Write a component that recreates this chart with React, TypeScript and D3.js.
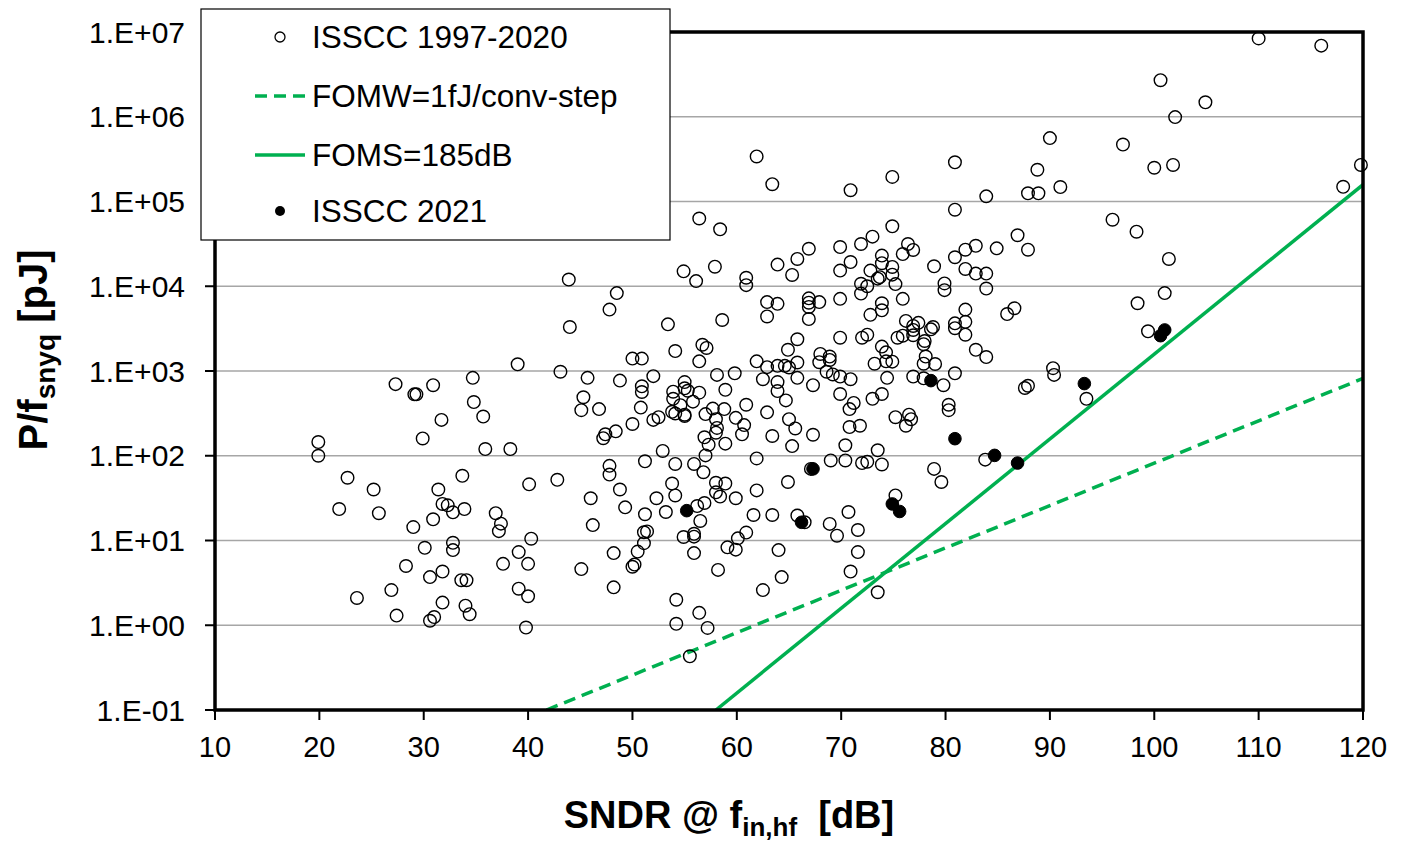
import React from "react";
import * as d3 from "d3";

// ISSCC 1997-2020: [SNDR dB, P/fsnyq pJ]
const isscc1997to2020: [number, number][] = [
  [39.0, 1200], [27.3, 700], [29.1, 530], [29.3, 530], [30.9, 680], [34.7, 830], [34.8, 430], [35.7, 290],
  [31.7, 265], [29.9, 160], [19.9, 145], [19.9, 100], [35.9, 120], [38.3, 120], [22.7, 55], [33.7, 58],
  [40.1, 46], [25.2, 40], [31.4, 40], [21.9, 23.5], [25.7, 21], [31.8, 27], [32.3, 26], [32.8, 21.5],
  [33.9, 23.5], [30.9, 17.8], [29.0, 14.4], [36.9, 21], [37.4, 15.8], [37.2, 12.9], [32.8, 9.4], [32.8, 7.7],
  [30.1, 8.2], [40.3, 10.5], [39.1, 7.3], [28.3, 5.0], [37.6, 5.3], [40.0, 5.3], [31.8, 4.3], [30.6, 3.7],
  [33.6, 3.4], [34.1, 3.4], [26.9, 2.6], [23.6, 2.1], [39.1, 2.7], [40.0, 2.2], [31.8, 1.85], [34.0, 1.7],
  [34.4, 1.35], [27.4, 1.3], [31.0, 1.25], [30.6, 1.13], [39.8, 0.94],
  [61.9, 3.4e5], [63.4, 1.6e5], [56.4, 6.3e4], [58.4, 4.7e4], [54.9, 1.5e4], [56.1, 1.15e4], [57.9, 1.7e4],
  [43.9, 1.2e4], [48.5, 8300], [60.9, 1.26e4], [60.9, 1.03e4], [63.9, 1.8e4], [65.3, 1.36e4], [65.8, 2.1e4],
  [47.8, 5300], [44.0, 3300], [53.4, 3550], [58.6, 4000], [62.9, 6500], [63.9, 6200], [62.9, 4400],
  [56.7, 2040], [57.1, 1870], [54.1, 1720], [50.0, 1400], [50.9, 1400], [56.4, 1300], [61.9, 1300],
  [64.9, 1780], [65.8, 2370], [43.1, 980], [45.7, 830], [48.8, 770], [52.0, 870], [58.1, 900], [59.8, 940],
  [62.9, 1110], [63.9, 1150], [64.6, 1150], [65.0, 1100], [65.8, 1260], [62.5, 800], [63.9, 740], [65.8, 830],
  [50.9, 660], [50.9, 565], [45.3, 490], [55.0, 740], [55.0, 625], [55.3, 585], [53.9, 570], [53.9, 470],
  [56.4, 555], [55.8, 435], [58.9, 600], [63.9, 580], [64.7, 450], [45.1, 345], [46.8, 355], [50.8, 370],
  [54.6, 395], [53.8, 330], [54.1, 315], [55.0, 305], [55.0, 295], [52.0, 265], [52.5, 285], [50.0, 237],
  [57.7, 360], [58.8, 355], [57.0, 310], [60.9, 400], [62.9, 325], [58.0, 270], [59.9, 280], [60.7, 230],
  [65.0, 270], [65.6, 210], [58.1, 213], [58.0, 187], [60.5, 179], [63.4, 171], [48.4, 194], [47.4, 179],
  [47.2, 161], [56.9, 165], [57.3, 135], [58.9, 139], [65.3, 130], [52.9, 114], [57.0, 101], [61.9, 93],
  [51.2, 86], [47.8, 76], [47.8, 60], [54.1, 80], [55.9, 80], [56.8, 64], [42.8, 52], [48.8, 40],
  [53.8, 47], [58.0, 48], [58.9, 47], [61.9, 39], [64.9, 49],
  [46.0, 31.5], [49.3, 24.6], [51.2, 20.4], [52.3, 31.5], [53.2, 21.7], [54.1, 34], [56.2, 25.5], [56.9, 27.7],
  [56.5, 17], [58.0, 37], [58.4, 33], [59.9, 31.5], [61.6, 20], [63.4, 20], [65.8, 19.7], [66.5, 16.4],
  [46.2, 15.2], [51.1, 12.5], [51.4, 12.8], [51.1, 9.3], [50.5, 7.4], [50.2, 5.2], [50.0, 4.9], [48.2, 7.1],
  [45.1, 4.6], [48.2, 2.8], [54.9, 11], [55.9, 12], [55.9, 11.1], [55.9, 7.1], [58.2, 4.5], [59.1, 8.3],
  [59.9, 7.8], [60.1, 10.6], [60.9, 12.4], [64.0, 7.7], [64.3, 3.7], [62.5, 2.6], [54.2, 2.0], [56.4, 1.4],
  [54.2, 1.04], [57.2, 0.93], [55.5, 0.43],
  [90.0, 5.6e5], [70.9, 1.36e5], [74.9, 1.95e5], [80.9, 2.9e5], [88.8, 2.37e5], [91.0, 1.48e5], [87.9, 1.25e5],
  [88.9, 1.25e5], [83.9, 1.15e5], [80.9, 8.0e4], [74.9, 5.1e4], [86.9, 4.0e4], [87.9, 2.7e4], [73.0, 3.85e4],
  [71.9, 3.15e4], [69.9, 2.9e4], [66.9, 2.77e4], [70.9, 1.93e4], [69.9, 1.53e4], [73.9, 2.3e4], [73.9, 1.87e4],
  [74.9, 1.69e4], [74.9, 1.37e4], [72.8, 1.53e4], [76.4, 3.15e4], [76.9, 2.68e4], [75.9, 2.4e4], [73.5, 1.23e4],
  [73.7, 1.28e4], [71.9, 1.07e4], [72.5, 1.0e4], [71.9, 8200], [75.2, 1.06e4], [78.9, 1.72e4], [80.9, 2.2e4],
  [81.9, 2.7e4], [82.9, 3.0e4], [84.9, 2.8e4], [81.9, 1.6e4], [82.9, 1.41e4], [83.9, 1.41e4], [79.9, 1.08e4],
  [79.9, 9000], [83.9, 9400], [66.9, 7200], [66.9, 6400], [66.9, 5700], [67.9, 6500], [69.9, 7100], [75.9, 7100],
  [73.9, 6300], [73.9, 5200], [72.8, 4600], [81.9, 5300], [86.6, 5500], [85.9, 4700], [66.9, 4100],
  [76.2, 3900], [77.4, 3700], [76.9, 3400], [78.8, 3300], [78.6, 3100], [80.9, 3650], [80.9, 3200], [81.9, 3800],
  [69.9, 2470], [72.0, 2470], [72.5, 2680], [75.4, 2470], [75.9, 2610], [76.9, 3050], [76.9, 2640], [77.9, 2070],
  [78.0, 2260], [81.9, 2680], [73.9, 1940], [74.3, 1660], [82.9, 1780], [83.9, 1460], [68.0, 1590], [68.9, 1480],
  [68.9, 1350], [67.9, 1270], [73.2, 1220], [74.3, 1300], [74.9, 1290], [78.1, 1480], [77.9, 1220], [79.0, 1210],
  [68.6, 980], [69.2, 910], [69.9, 860], [70.9, 800], [67.3, 680], [74.4, 830], [76.9, 860], [77.9, 820],
  [79.8, 680], [80.9, 940], [90.3, 1080], [90.4, 900], [87.6, 630], [87.9, 670], [69.9, 535], [73.0, 470],
  [73.9, 535], [71.2, 420], [70.8, 355], [80.3, 400], [80.3, 345], [75.2, 285], [76.5, 305], [76.7, 270],
  [76.2, 226], [70.8, 218], [71.8, 226], [67.3, 177], [70.4, 133], [73.5, 116], [69.0, 88], [70.4, 88],
  [72.0, 82], [72.5, 85], [73.9, 79], [67.1, 70], [83.8, 90], [78.9, 70], [79.6, 49], [75.2, 34],
  [70.7, 21.7], [68.9, 15.7], [69.6, 11.4], [71.6, 13.3], [71.6, 7.3], [70.9, 4.3], [73.5, 2.45],
  [110.0, 8.4e6], [116.0, 6.9e6], [100.6, 2.7e6], [104.9, 1.48e6], [102.0, 9.9e5], [97.0, 4.7e5], [100.0, 2.5e5],
  [101.8, 2.7e5], [119.8, 2.7e5], [118.1, 1.49e5], [96.0, 6.1e4], [98.3, 4.4e4], [101.4, 2.1e4],
  [101.0, 8300], [98.4, 6300], [99.4, 2940], [93.5, 470],
];

// ISSCC 2021
const isscc2021: [number, number][] = [
  [55.2, 22.5], [66.2, 16.4], [67.3, 70], [74.9, 27], [75.6, 22], [78.6, 770],
  [80.9, 159], [84.7, 101], [86.9, 82], [93.3, 710], [101.0, 3050], [100.6, 2610],
];

// Reference lines (end points)
const fomwLine: [number, number][] = [[41.76, 0.1], [120, 818]];
const fomsLine: [number, number][] = [[58, 0.1], [120, 1.58e5]];

const xTicks = [10, 20, 30, 40, 50, 60, 70, 80, 90, 100, 110, 120];
const yTicks = [0.1, 1, 10, 100, 1e3, 1e4, 1e5, 1e6, 1e7];

const legendItems = ["ISSCC 1997-2020", "FOMW=1fJ/conv-step", "FOMS=185dB", "ISSCC 2021"];

const W = 1411, H = 842;
const L = 215, R = 1363, T = 32, B = 710;
const GREEN = "#00B050";
const FONT = "'Liberation Sans', Arial, sans-serif";

function fmtY(v: number) {
  const e = Math.round(Math.log10(v));
  return `1.E${e >= 0 ? "+" : "-"}${String(Math.abs(e)).padStart(2, "0")}`;
}

export default function App() {
  const x = d3.scaleLinear().domain([10, 120]).range([L, R]);
  const y = d3.scaleLog().domain([0.1, 1e7]).range([B, T]);
  const line = d3.line<[number, number]>().x((d) => x(d[0])).y((d) => y(d[1]));

  return (
    <svg width={W} height={H} style={{ position: "absolute", left: 0, top: 0, background: "#fff" }} fontFamily={FONT}>
      <defs>
        <clipPath id="plot">
          <rect x={L} y={T} width={R - L} height={B - T} />
        </clipPath>
      </defs>
      {/* gridlines */}
      {yTicks.map((t) => (
        <line key={t} x1={L} x2={R} y1={y(t)} y2={y(t)} stroke="#A6A6A6" strokeWidth={1.5} />
      ))}
      {/* reference lines */}
      <g clipPath="url(#plot)">
        <path d={line(fomwLine) || ""} fill="none" stroke={GREEN} strokeWidth={3.5} strokeDasharray="12 7" />
        <path d={line(fomsLine) || ""} fill="none" stroke={GREEN} strokeWidth={3.5} />
      </g>
      {/* points */}
      {isscc1997to2020.map((d, i) => (
        <circle key={"o" + i} cx={x(d[0])} cy={y(d[1])} r={6.3} fill="none" stroke="#000" strokeWidth={1.4} />
      ))}
      {isscc2021.map((d, i) => (
        <circle key={"f" + i} cx={x(d[0])} cy={y(d[1])} r={6.3} fill="#000" stroke="#000" strokeWidth={1} />
      ))}
      {/* frame */}
      <rect x={L} y={T} width={R - L} height={B - T} fill="none" stroke="#000" strokeWidth={3.5} />
      {/* x ticks */}
      {xTicks.map((t) => (
        <g key={t}>
          <line x1={x(t)} x2={x(t)} y1={B} y2={B + 10} stroke="#000" strokeWidth={2} />
          <text x={x(t)} y={757} textAnchor="middle" fontSize={29} fill="#000">{t}</text>
        </g>
      ))}
      {/* y ticks */}
      {yTicks.map((t) => (
        <g key={t}>
          <line x1={L - 10} x2={L} y1={y(t)} y2={y(t)} stroke="#000" strokeWidth={2} />
          <text x={L - 30} y={y(t)} textAnchor="end" dominantBaseline="central" fontSize={30} fill="#000">{fmtY(t)}</text>
        </g>
      ))}
      {/* axis titles */}
      <text x={729} y={828} textAnchor="middle" fontSize={38} fontWeight="bold" fill="#000">
        SNDR @ f<tspan fontSize={26} dy={8}>in,hf</tspan><tspan dy={-8}>{"\u00a0\u00a0[dB]"}</tspan>
      </text>
      <text transform={`translate(47, 350) rotate(-90)`} textAnchor="middle" fontSize={40} fontWeight="bold" fill="#000">
        P/f<tspan fontSize={28} dy={8}>snyq</tspan><tspan dy={-8}>{"\u00a0[pJ]"}</tspan>
      </text>
      {/* legend */}
      <rect x={201} y={9} width={469} height={231} fill="#fff" stroke="#000" strokeWidth={1.2} />
      {legendItems.map((lab, i) => {
        const ly = [37, 96, 155, 211][i];
        return (
          <g key={lab}>
            {i === 0 && <circle cx={280} cy={ly} r={5} fill="none" stroke="#000" strokeWidth={1.3} />}
            {i === 3 && <circle cx={280} cy={ly} r={5} fill="#000" />}
            {i === 1 && <line x1={255} x2={305} y1={ly} y2={ly} stroke={GREEN} strokeWidth={3.5} strokeDasharray="12 7" />}
            {i === 2 && <line x1={255} x2={305} y1={ly} y2={ly} stroke={GREEN} strokeWidth={3.5} />}
            <text x={312} y={ly} dominantBaseline="central" fontSize={31.5} fill="#000">{lab}</text>
          </g>
        );
      })}
    </svg>
  );
}
